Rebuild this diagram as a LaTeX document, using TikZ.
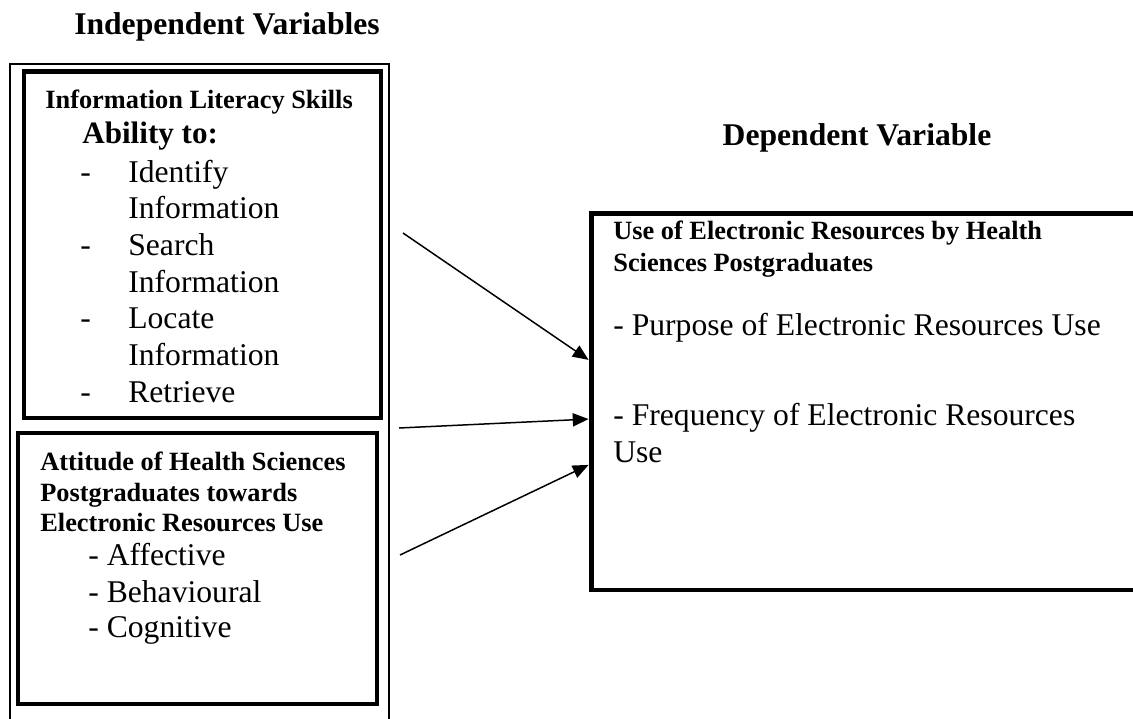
\documentclass[tikz,border=0pt]{standalone}
\usepackage{fontspec}
\setmainfont{Liberation Serif}
\usetikzlibrary{arrows.meta,calc}

\newcommand{\fsz}[2]{\fontsize{#1}{#2}\selectfont}

\begin{document}
\begin{tikzpicture}[x=0.02cm,y=-0.02cm,
  hdr/.style={font=\bfseries\fsz{18}{21}, anchor=base, inner sep=0pt},
  sub/.style={font=\bfseries\fsz{15}{17}, anchor=base west, inner sep=0pt},
  item/.style={font=\fsz{18}{21}, anchor=base west, inner sep=0pt},
  thickbox/.style={draw, line width=2.8pt, inner sep=0pt},
  thinbox/.style={draw, line width=1pt, inner sep=0pt},
  link/.style={line width=0.85pt, -{Triangle[length=9pt,width=7.5pt]}}]
\useasboundingbox (0,0) rectangle (1133,718);
\clip (0,0) rectangle (1133,718);

% headings
\node[hdr] (indep) at (227,34) {Independent Variables};
\node[hdr] (depvar) at (857,145) {Dependent Variable};

% boxes
\node[thinbox, minimum width=7.58cm, minimum height=13.52cm] (outer) at (199.5,402) {};
\node[thickbox, minimum width=7.14cm, minimum height=6.94cm] (ils) at (202.5,244.5) {};
\node[thickbox, minimum width=7.18cm, minimum height=5.42cm] (att) at (197.5,568.5) {};
\node[thickbox, minimum width=11.18cm, minimum height=7.54cm] (use) at (870.5,401.5) {};

% information literacy skills
\node[sub] (ilsT) at (45,108) {Information Literacy Skills};
\node[font=\bfseries\fsz{17.7}{20}, anchor=base west, inner sep=0pt] (abl) at (82,143) {Ability to:};
\node[item] (d1) at (80,182) {-};
\node[item] (i1) at (128,182) {Identify};
\node[item] (i2) at (128,218) {Information};
\node[item] (d2) at (80,255) {-};
\node[item] (i3) at (128,255) {Search};
\node[item] (i4) at (128,292) {Information};
\node[item] (d3) at (80,328) {-};
\node[item] (i5) at (128,328) {Locate};
\node[item] (i6) at (128,365) {Information};
\node[item] (d4) at (80,402) {-};
\node[item] (i7) at (128,402) {Retrieve};

% attitude
\node[sub] (att1) at (40,470) {Attitude of Health Sciences};
\node[sub] (att2) at (40,501) {Postgraduates towards};
\node[sub] (att3) at (40,531) {Electronic Resources Use};
\node[item] (a1) at (88,565) {- Affective};
\node[item] (a2) at (88,602) {- Behavioural};
\node[item] (a3) at (88,637) {- Cognitive};

% use of electronic resources
\node[sub] (use1) at (613,239) {Use of Electronic Resources by Health};
\node[sub] (use2) at (613,271) {Sciences Postgraduates};
\node[item] (u1) at (613,335) {- Purpose of Electronic Resources Use};
\node[item] (u2) at (613,425) {- Frequency of Electronic Resources};
\node[item] (u3) at (613,462) {Use};

% connectors
\coordinate (s1) at (403,233);
\coordinate (s2) at (399,428);
\coordinate (s3) at (400,555);
\draw[link] (s1) -- ($(use.north west)!0.391!(use.south west)$);
\draw[link] (s2) -- ($(use.north west)!0.546!(use.south west)$);
\draw[link] (s3) -- ($(use.north west)!0.666!(use.south west)$);
\end{tikzpicture}
\end{document}
